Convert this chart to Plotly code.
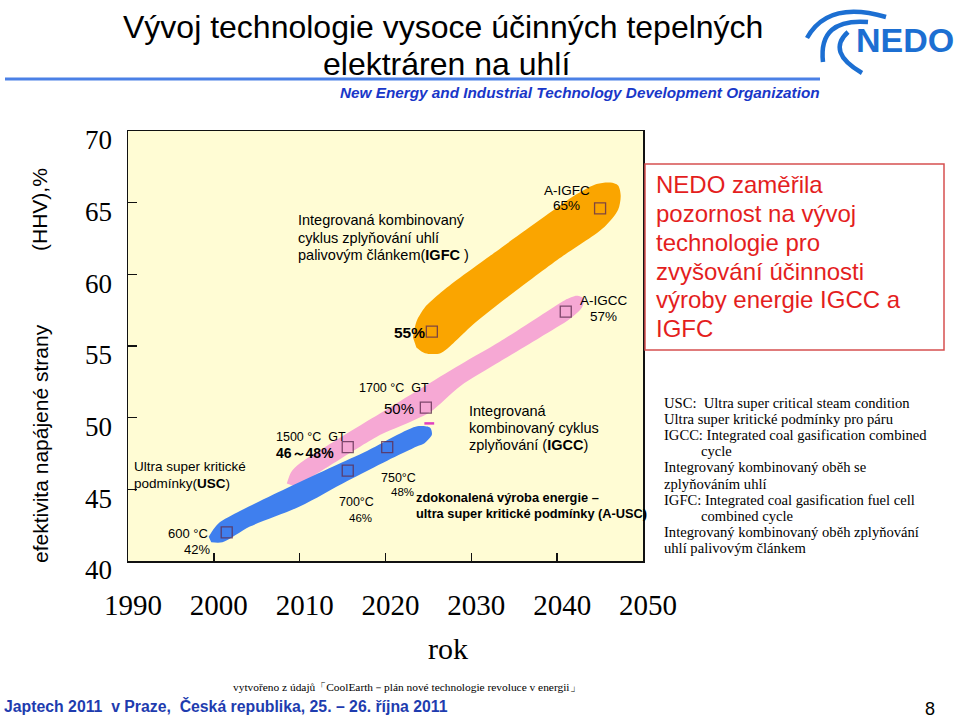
import plotly.graph_objects as go

# ---------------- data ----------------
x_ticks = [1990, 2000, 2010, 2020, 2030, 2040, 2050]
y_ticks = [40, 45, 50, 55, 60, 65, 70]

# band outlines (year, efficiency %)
igfc_year = [2023.2, 2023.6, 2024.6, 2026.0, 2028.3, 2032.2, 2038.0, 2042.3, 2044.6, 2046.2, 2047.1,
             2047.4, 2047.1, 2045.5, 2040.0, 2034.2, 2030.2, 2027.9, 2026.4, 2024.6, 2023.6]
igfc_eff = [55.6, 56.7, 57.7, 58.5, 59.6, 61.3, 63.8, 65.6, 66.3, 66.4, 66.2,
            65.5, 64.5, 63.3, 61.0, 58.4, 56.5, 55.2, 54.5, 54.5, 54.9]

igcc_year = [2008.5, 2009.0, 2010.0, 2014.7, 2019.4, 2024.0, 2028.7, 2033.3, 2038.0, 2040.9, 2042.3,
             2043.1, 2042.9, 2041.5, 2038.0, 2033.3, 2028.7, 2025.2, 2021.7, 2019.4, 2014.7, 2011.2, 2009.5]
igcc_eff = [45.4, 46.2, 46.8, 48.6, 50.3, 52.0, 53.7, 55.3, 57.1, 58.2, 58.5,
            58.3, 57.7, 56.9, 55.6, 53.9, 52.2, 50.4, 49.4, 48.8, 47.1, 45.8, 45.2]

ausc_year = [1999.4, 2000.5, 2003.1, 2008.9, 2013.9, 2017.9, 2021.7, 2023.7, 2025.2, 2025.4,
             2024.5, 2023.7, 2020.2, 2015.6, 2010.0, 2004.2, 2001.0, 1999.7]
ausc_eff = [41.7, 42.6, 43.5, 45.2, 46.6, 47.7, 48.9, 49.4, 49.3, 48.8,
            48.2, 48.0, 47.0, 45.6, 43.8, 42.4, 41.3, 41.3]

milestone_year = [2045.0, 2025.4, 2041.0, 2024.7, 2015.6, 2020.2, 2015.6, 2001.5]
milestone_eff = [64.6, 56.0, 57.4, 50.7, 47.95, 47.95, 46.3, 42.0]

dash_year = [2025.1]
dash_eff = [49.6]

SANS = "Liberation Sans, Arial, sans-serif"
SERIF = "Liberation Serif, Times New Roman, serif"

# plot area in pixels
L, R, T, B = 128, 643, 131, 561
W, H = 960, 718


def P(px, py):
    return (px - L) / (R - L), (B - py) / (B - T)


fig = go.Figure()

for xs, ys, col in [(igfc_year, igfc_eff, "#FAA500"),
                    (igcc_year, igcc_eff, "#F6A8D4"),
                    (ausc_year, ausc_eff, "#3F7FEE")]:
    fig.add_trace(go.Scatter(x=xs, y=ys, fill="toself", mode="lines",
                             line=dict(width=0, shape="spline", smoothing=0.8),
                             fillcolor=col, hoverinfo="skip", showlegend=False))

fig.add_trace(go.Scatter(x=milestone_year, y=milestone_eff, mode="markers",
                         marker=dict(symbol="square-open", size=11,
                                     line=dict(width=1.3, color="rgba(95,45,80,0.8)"),
                                     color="rgba(95,45,80,0.8)"),
                         hoverinfo="skip", showlegend=False))
fig.add_trace(go.Scatter(x=dash_year, y=dash_eff, mode="markers",
                         marker=dict(symbol="line-ew", size=7,
                                     line=dict(width=2.5, color="#E040C0")),
                         hoverinfo="skip", showlegend=False))

fig.update_layout(
    width=W, height=H,
    margin=dict(l=L, r=W - R, t=T, b=H - B, pad=0),
    paper_bgcolor="white",
    plot_bgcolor="#FFFCD4",
    showlegend=False,
    xaxis=dict(range=[1990, 2050], tickvals=x_ticks, ticktext=[str(v) for v in x_ticks],
               showgrid=False, zeroline=False, showline=True, mirror=True,
               linecolor="#111", linewidth=1.5, ticks="inside", ticklen=8,
               tickcolor="#111", tickwidth=1.5,
               tickfont=dict(family=SERIF, size=29, color="black"),
               ticklabelstandoff=18, ticklabelshift=5, fixedrange=True),
    yaxis=dict(range=[40, 70], tickvals=y_ticks, ticktext=[str(v) for v in y_ticks],
               showgrid=False, zeroline=False, showline=True, mirror=True,
               linecolor="#111", linewidth=1.5, ticks="inside", ticklen=9,
               tickcolor="#111", tickwidth=1.5,
               tickfont=dict(family=SERIF, size=27, color="black"),
               ticklabelstandoff=9, ticklabelshift=9, fixedrange=True),
)


def txt(s, px, py, size, color="black", family=SANS, anchor="left", angle=0):
    x, y = P(px, py)
    fig.add_annotation(text=s, x=x, y=y, xref="paper", yref="paper",
                       xanchor=anchor, yanchor="middle", showarrow=False,
                       textangle=angle,
                       font=dict(size=size, color=color, family=family))


def lines(items, px, py0, pitch, size, **kw):
    for i, s in enumerate(items):
        if isinstance(s, tuple):
            s, dx = s
        else:
            dx = 0
        txt(s, px + dx, py0 + i * pitch, size, **kw)


# ---- title ----
txt("Vývoj technologie vysoce účinných tepelných", 443, 27, 32, anchor="center")
txt("elektráren na uhlí", 446, 64, 32, anchor="center")
txt("<b><i>New Energy and Industrial Technology Development Organization</i></b>",
    822, 93, 15.3, color="#1937C8", anchor="right")

x0, y0 = P(5, 79)
x1, y1 = P(820, 79)
fig.add_shape(type="line", x0=x0, y0=y0, x1=x1, y1=y1, xref="paper", yref="paper",
              line=dict(color="#4A80E6", width=3))


# ---- NEDO logo ----
def path_q(p0, c, p1):
    a = P(*p0); b = P(*c); d = P(*p1)
    return f"M {a[0]},{a[1]} Q {b[0]},{b[1]} {d[0]},{d[1]}"


for p0, c, p1, w in [((807, 38), (828, 0), (886, 17), 4.5),
                     ((823, 62), (818, 18), (868, 22), 4.5),
                     ((848, 32), (826, 52), (862, 73), 4.5)]:
    fig.add_shape(type="path", path=path_q(p0, c, p1), xref="paper", yref="paper",
                  line=dict(color="#1C6FD2", width=w))
txt("<b>NEDO</b>", 905, 40, 34, color="#1C6FD2", anchor="center")

# ---- axis titles ----
txt("(HHV),%", 40, 210, 21, anchor="center", angle=-90)
txt("efektivita napájené strany", 40, 444, 21, anchor="center", angle=-90)
txt("rok", 448, 648, 30, family=SERIF, anchor="center")

# ---- in-plot labels ----
lines(["Integrovaná kombinovaný", "cyklus zplyňování uhlí",
       "palivovým článkem(<b>IGFC</b> )"], 296, 220, 17.5, 14.5)
txt("A-IGFC", 567, 190, 13.5, anchor="center")
txt("65%", 566, 205, 13.5, anchor="center")
txt("A-IGCC", 604, 300, 13.5, anchor="center")
txt("57%", 603, 316, 13.5, anchor="center")
txt("<b>55%</b>", 409, 332, 15.5, anchor="center")
txt("1700 °C  GT", 394, 388, 12.5, anchor="center")
txt("50%", 399, 408, 15, anchor="center")
lines(["Integrovaná", "kombinovaný cyklus", "zplyňování (<b>IGCC</b>)"], 467, 411, 17, 14.5)
txt("1500 °C  GT", 311, 437, 12.5, anchor="center")
txt("<b>46～48%</b>", 305, 453, 14, anchor="center")
lines(["Ultra super kritické", "podmínky(<b>USC</b>)"], 132, 466, 17, 13.5)
txt("750°C", 398, 478, 12.5, anchor="center")
txt("48%", 402, 492, 11.5, anchor="center")
txt("700°C", 356, 502, 12.5, anchor="center")
txt("46%", 360, 518, 11.5, anchor="center")
lines(["<b>zdokonalená výroba energie –</b>",
       "<b>ultra super kritické podmínky (A-USC)</b>"], 414, 497, 16, 12.8)
txt("600 °C", 188, 533, 13, anchor="center")
txt("42%", 197, 549, 13, anchor="center")

# ---- red box ----
bx0, by0 = P(645, 164)
bx1, by1 = P(944, 350)
fig.add_shape(type="rect", x0=bx0, y0=by1, x1=bx1, y1=by0, xref="paper", yref="paper",
              line=dict(color="#D65050", width=1.5), fillcolor="rgba(0,0,0,0)")
lines(["NEDO zaměřila", "pozornost na vývoj", "technologie pro",
       "zvyšování účinnosti", "výroby energie IGCC a", "IGFC"],
      654, 185, 28.7, 24, color="#E41E1E")

# ---- notes ----
lines(["USC:  Ultra super critical steam condition",
       "Ultra super kritické podmínky pro páru",
       "IGCC: Integrated coal gasification combined",
       ("cycle", 37),
       "Integrovaný kombinovaný oběh se",
       "zplyňováním uhlí",
       "IGFC: Integrated coal gasification fuel cell",
       ("combined cycle", 37),
       "Integrovaný kombinovaný oběh zplyňování",
       "uhlí palivovým článkem"],
      662, 403, 16.1, 14.6, family=SERIF)

# ---- footer ----
txt("vytvořeno z údajů「CoolEarth－plán nové technologie revoluce v energii」",
    407, 687, 11.4, family=SERIF, anchor="center")
txt("<b>Japtech 2011  v Praze,  Česká republika, 25. – 26. října 2011</b>",
    2, 706, 15.8, color="#1E3CAF")
txt("8", 930, 709, 18, anchor="center")

fig.write_html("out.html",
               config={"displayModeBar": False, "staticPlot": True},
               post_script="document.body.style.margin='0px';document.body.style.overflow='hidden';")
